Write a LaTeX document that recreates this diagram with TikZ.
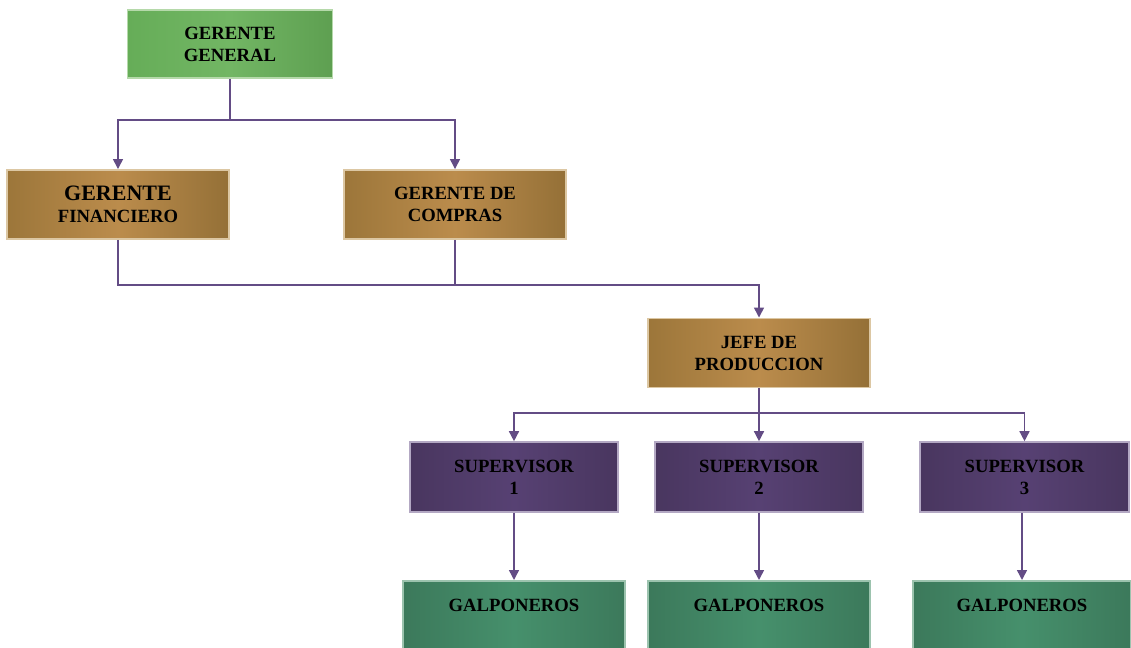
\documentclass[tikz,border=0pt]{standalone}
\usepackage{fontspec}
\setmainfont{Liberation Serif}
\usetikzlibrary{arrows.meta}
\definecolor{linkcol}{HTML}{634C85}
\definecolor{ggA}{HTML}{66AD58}
\definecolor{ggB}{HTML}{72B664}
\definecolor{ggE}{HTML}{B5D9AA}
\definecolor{auA}{HTML}{9C763A}
\definecolor{auB}{HTML}{BB8C4C}
\definecolor{auE}{HTML}{DCC7A3}
\definecolor{puA}{HTML}{49365F}
\definecolor{puB}{HTML}{574173}
\definecolor{puE}{HTML}{B3A8C3}
\definecolor{tlA}{HTML}{3C795B}
\definecolor{tlB}{HTML}{46906C}
\definecolor{tlE}{HTML}{9CC3AE}
\tikzset{
  box/.style={rectangle, inner sep=0pt, align=center, line width=1.2pt,
    font=\fontsize{14pt}{16.5pt}\selectfont\bfseries},
  boxgreen/.style={box, draw=ggE, left color=ggA, right color=ggA!92!black, middle color=ggB,
    minimum width=153.75pt, minimum height=51pt},
  boxgold/.style={box, draw=auE, left color=auA, right color=auA!95!black, middle color=auB,
    minimum width=166.5pt, minimum height=52pt},
  boxpurple/.style={box, draw=puE, left color=puA, right color=puA, middle color=puB,
    minimum width=156pt, minimum height=52.5pt},
  boxteal/.style={box, draw=tlE, left color=tlA, right color=tlA, middle color=tlB,
    minimum width=166.5pt, minimum height=52.5pt, anchor=north},
  galptext/.style={anchor=center, yshift=-18.75pt, inner sep=0pt,
    font=\fontsize{14pt}{16.5pt}\selectfont\bfseries},
  link/.style={draw=linkcol, line width=1.1pt},
  arrowlink/.style={link, -{Triangle[width=7.5pt,length=7.5pt]}},
}
\begin{document}
\begin{tikzpicture}[x=0.75pt, y=-0.75pt]
\useasboundingbox (0,0) rectangle (1131,648);
\fill[white] (0,0) rectangle (1131,648);

% boxes
\node[boxgreen] (gg) at (230,44) {GERENTE\\GENERAL};
\node[boxgold] (gf) at (118,204.5) {{\fontsize{16.5pt}{19pt}\selectfont GERENTE}\\FINANCIERO};
\node[boxgold] (gc) at (455,204.5) {GERENTE DE\\COMPRAS};
\node[boxgold] (jp) at (759,353) {JEFE DE\\PRODUCCION};
\node[boxpurple] (s1) at (514,477) {SUPERVISOR\\1};
\node[boxpurple] (s2) at (759,477) {SUPERVISOR\\2};
\node[boxpurple, minimum width=156.75pt] (s3) at (1024.5,477) {SUPERVISOR\\3};
\node[boxteal, label={[galptext]north:GALPONEROS}] (g1) at (514,580) {};
\node[boxteal, label={[galptext]north:GALPONEROS}] (g2) at (759,580) {};
\node[boxteal, minimum width=163.5pt, label={[galptext]north:GALPONEROS}] (g3) at (1022,580) {};

% junction points
\coordinate (b1) at (230,120);
\coordinate (b2) at (118,285);
\coordinate (b3) at (759,413);

% connectors
\draw[link] (gg.south) -- (b1);
\draw[arrowlink] (b1) -| (gf.north);
\draw[arrowlink] (b1) -| (gc.north);

\draw[link] (gc.south) -- (gc.south |- b2);
\draw[arrowlink] (gf.south) -- (b2) -| (jp.north);

\draw[link] (jp.south) -- (b3);
\draw[arrowlink] (b3) -| (s1.north);
\draw[arrowlink] (b3) -| (s3.north);
\draw[arrowlink] (b3) -- (s2.north);

\draw[arrowlink] (s1.south) -- (g1.north);
\draw[arrowlink] (s2.south) -- (g2.north);
\draw[arrowlink] (s3.south -| g3.north) -- (g3.north);
\end{tikzpicture}
\end{document}
